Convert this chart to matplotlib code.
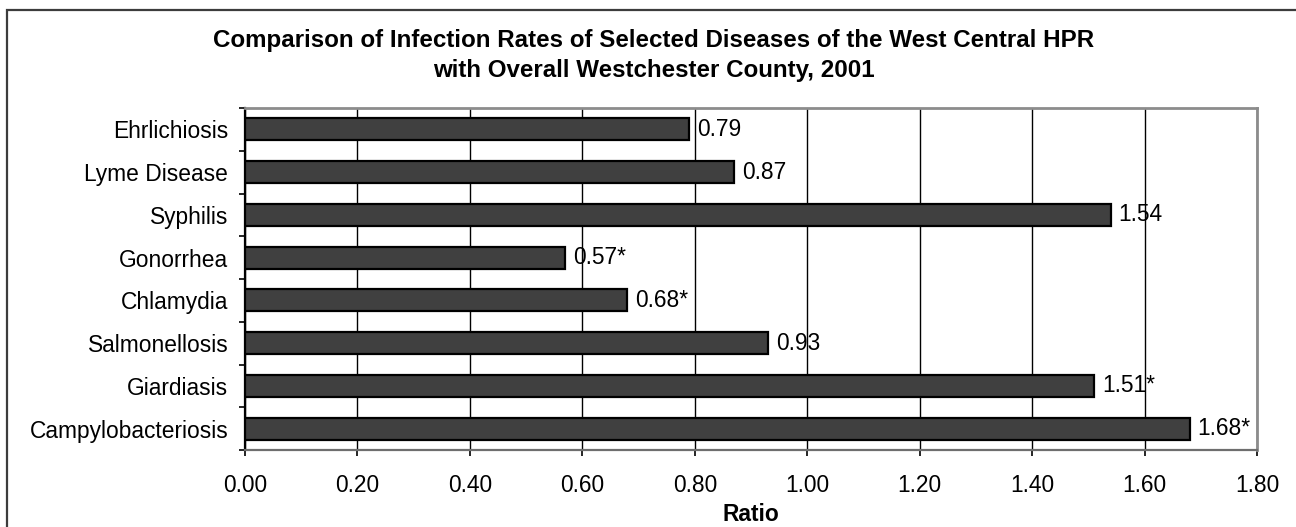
import matplotlib
matplotlib.use("Agg")
import matplotlib.pyplot as plt
from matplotlib.patches import Rectangle
from matplotlib.ticker import FixedLocator, NullFormatter

plt.rcParams['font.family'] = ['Liberation Sans', 'DejaVu Sans']

# data, top to bottom as in the chart
diseases = ["Ehrlichiosis", "Lyme Disease", "Syphilis", "Gonorrhea",
            "Chlamydia", "Salmonellosis", "Giardiasis", "Campylobacteriosis"]
ratios = [0.79, 0.87, 1.54, 0.57, 0.68, 0.93, 1.51, 1.68]
labels = ["0.79", "0.87", "1.54", "0.57*", "0.68*", "0.93", "1.51*", "1.68*"]
xticks = [0.0, 0.2, 0.4, 0.6, 0.8, 1.0, 1.2, 1.4, 1.6, 1.8]

W, H = 1296, 527
FS = 16.4
fig = plt.figure(figsize=(W / 100, H / 100), dpi=100)

# outer frame (only top and left edges fall inside the picture)
fig.patches.append(Rectangle((7 / W, -0.1), 1.2, (H - 10) / H + 0.1,
                             transform=fig.transFigure, fill=False,
                             edgecolor="#3c3c3c", linewidth=1.6))

ax = fig.add_axes([245 / W, (H - 450) / H, (1257 - 245) / W, (450 - 108) / H])

ypos = list(range(len(diseases)))
ax.barh(ypos, ratios, height=0.51, color="#404040", edgecolor="black",
        linewidth=1.6, zorder=3)
for y, v, t in zip(ypos, ratios, labels):
    ax.text(v + 0.014, y, t, va="center", ha="left", fontsize=FS, zorder=4)

ax.set_xlim(0, 1.8)
ax.set_ylim(len(diseases) - 0.5, -0.5)
ax.set_xticks(xticks)
ax.set_xticklabels([f"{t:.2f}" for t in xticks], fontsize=FS)
ax.set_yticks(ypos)
ax.set_yticklabels(diseases, fontsize=FS)
ax.tick_params(axis="y", which="major", length=0, pad=12)
ax.yaxis.set_minor_locator(FixedLocator([i - 0.5 for i in range(len(diseases) + 1)]))
ax.yaxis.set_minor_formatter(NullFormatter())
ax.tick_params(axis="y", which="minor", length=4.5, width=1.2, color="black")
ax.tick_params(axis="x", length=4.5, width=1.2, pad=13)

ax.grid(axis="x", color="black", linewidth=1.0, zorder=1)
ax.set_axisbelow(True)
for s in ["top", "right"]:
    ax.spines[s].set_color("#8c8c8c")
    ax.spines[s].set_linewidth(2)
ax.spines["bottom"].set_color("#6e6e6e")
ax.spines["bottom"].set_linewidth(1.6)
ax.spines["left"].set_color("black")
ax.spines["left"].set_linewidth(1.6)

ax.set_xlabel("Ratio", fontsize=FS, fontweight="bold", labelpad=4)

fig.text(654 / W, 1 - 41 / H,
         "Comparison of Infection Rates of Selected Diseases of the West Central HPR",
         ha="center", va="center", fontsize=17.4, fontweight="bold")
fig.text(654 / W, 1 - 71 / H, "with Overall Westchester County, 2001",
         ha="center", va="center", fontsize=17.4, fontweight="bold")

fig.savefig("out.png", dpi=100)
